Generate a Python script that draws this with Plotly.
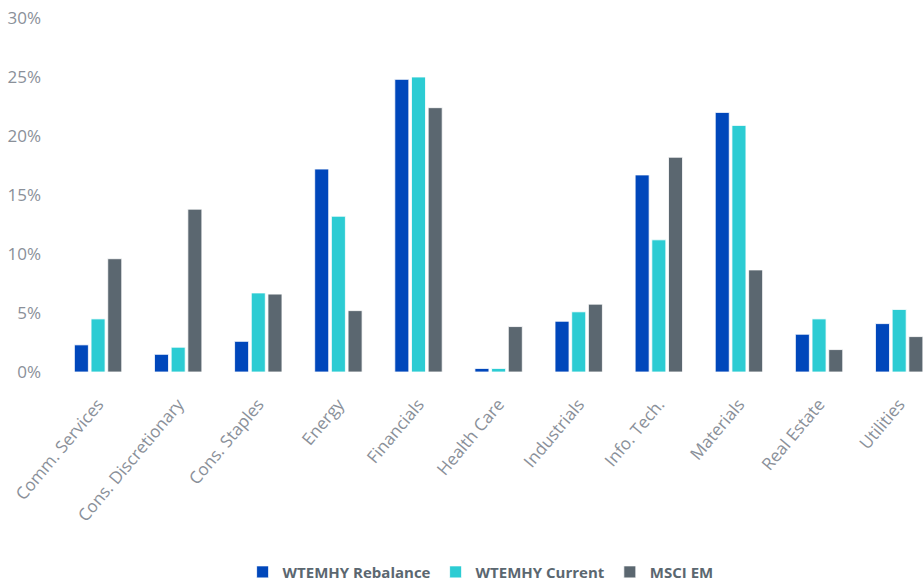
import plotly.graph_objects as go

categories = ["Comm. Services", "Cons. Discretionary", "Cons. Staples", "Energy", "Financials",
              "Health Care", "Industrials", "Info. Tech.", "Materials", "Real Estate", "Utilities"]
rebalance = [2.3, 1.5, 2.6, 17.2, 24.8, 0.3, 4.3, 16.7, 22.0, 3.2, 4.1]
current = [4.5, 2.1, 6.7, 13.2, 25.0, 0.3, 5.1, 11.2, 20.9, 4.5, 5.3]
msci_em = [9.6, 13.8, 6.6, 5.2, 22.4, 3.85, 5.75, 18.2, 8.65, 1.9, 3.0]
y_ticks = [0, 5, 10, 15, 20, 25, 30]
y_labels = ["0%", "5%", "10%", "15%", "20%", "25%", "30%"]

series = [("WTEMHY Rebalance", rebalance, "#0047BB"),
          ("WTEMHY Current", current, "#2CCCD3"),
          ("MSCI EM", msci_em, "#5B6770")]

fig = go.Figure()
for name, vals, col in series:
    fig.add_trace(go.Bar(x=categories, y=vals, name=name,
                         marker=dict(color=col, line=dict(color="white", width=0.8))))

fig.update_layout(
    width=924, height=585,
    barmode="group", bargap=0.375, bargroupgap=0.16,
    plot_bgcolor="white", paper_bgcolor="white",
    margin=dict(l=58, r=0, t=18, b=213, autoexpand=False),
    font=dict(family="Open Sans", color="#8A9099", size=15),
    showlegend=True,
    legend=dict(orientation="h", x=0.488, xanchor="center", yref="container",
                y=0.022, yanchor="middle",
                font=dict(family="Open Sans", size=15, color="#5B6770", weight="bold"),
                itemwidth=30, traceorder="normal"),
    xaxis=dict(range=[-0.5, 10.31], tickangle=-50, showgrid=False, showline=False,
               ticks="", automargin=False, ticklabelstandoff=18,
               tickfont=dict(size=17, color="#8A9099")),
    yaxis=dict(range=[0, 30], tickvals=y_ticks, ticktext=y_labels, showgrid=False,
               zeroline=False, showline=False, ticks="", ticklabelstandoff=16,
               automargin=False, ticklabeloverflow="allow",
               tickfont=dict(size=17, color="#8A9099")),
)

fig.write_html("out.html", config={"displayModeBar": False},
               post_script="document.body.style.margin='0';document.body.style.overflow='hidden';")
